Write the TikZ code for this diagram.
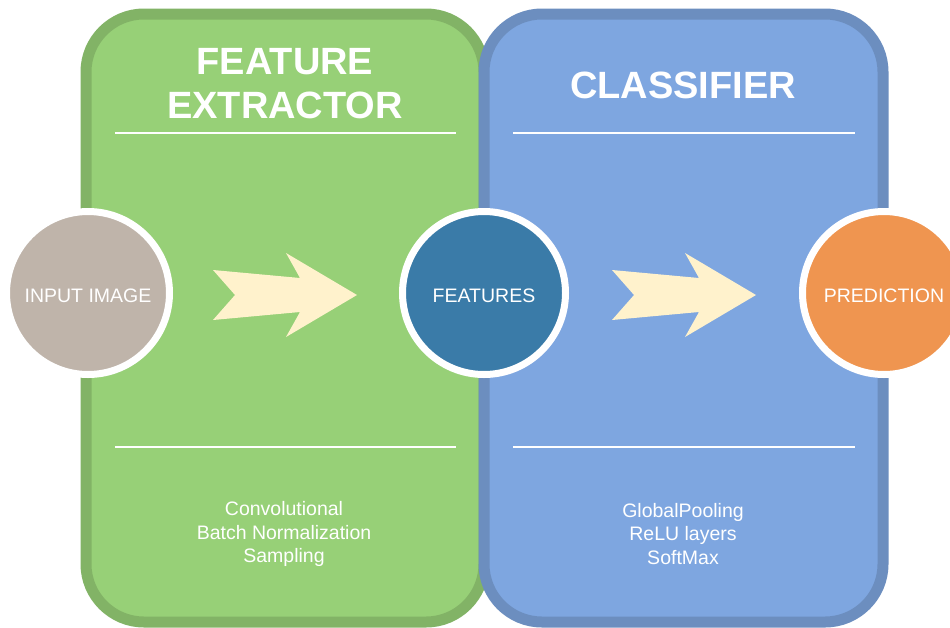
\documentclass[tikz,border=0pt]{standalone}
\usepackage{fontspec}
\setmainfont{Liberation Sans}
\definecolor{extfill}{HTML}{97D077}
\definecolor{extline}{HTML}{82B366}
\definecolor{clsfill}{HTML}{7EA6E0}
\definecolor{clsline}{HTML}{6C8EBF}
\definecolor{inputc}{HTML}{BFB4AA}
\definecolor{featc}{HTML}{3A7BA8}
\definecolor{predc}{HTML}{EF9550}
\definecolor{arrowc}{HTML}{FFF2CC}
\tikzset{
  panel/.style={line width=11pt, rounded corners=58pt},
  blob/.style={circle, draw=white, line width=7pt, minimum size=163pt, inner sep=0pt},
  blobtext/.style={text=white, font=\fontsize{19.5}{21}\selectfont, inner sep=0pt},
  title/.style={text=white, font=\fontsize{38}{44}\selectfont\bfseries, align=center},
  notes/.style={text=white, font=\fontsize{19.5}{23.5}\selectfont, align=center},
  rule/.style={draw=white, line width=2pt},
  chevron/.style={fill=arrowc, draw=none}
}
\begin{document}
\begin{tikzpicture}[x=1pt,y=-1pt]
\useasboundingbox (0,0) rectangle (950,627);
\fill[white] (0,0) rectangle (950,627);

% two stage panels
\draw[panel, fill=extfill, draw=extline] (86,14) rectangle (484,622);
\draw[panel, fill=clsfill, draw=clsline] (484,14) rectangle (883,622);

% panel titles
\node[title] (t1) at (285,84) {FEATURE\\EXTRACTOR};
\node[title] (t2) at (683,85) {CLASSIFIER};

% separator rules
\coordinate (r1a) at (115,133); \coordinate (r1b) at (456,133);
\coordinate (r2a) at (513,133); \coordinate (r2b) at (855,133);
\coordinate (r3a) at (115,447); \coordinate (r3b) at (456,447);
\coordinate (r4a) at (513,447); \coordinate (r4b) at (855,447);
\draw[rule] (r1a) -- (r1b);
\draw[rule] (r2a) -- (r2b);
\draw[rule] (r3a) -- (r3b);
\draw[rule] (r4a) -- (r4b);

% notched arrows
\foreach \dx in {0,399}{
  \fill[chevron, shift={(\dx,0)}]
    (213,270) -- (300,278) -- (286,253) -- (357,295) -- (286,337)
    -- (300,312) -- (213,320) -- (235,295) -- cycle;
}

% data circles, captions set a little below centre
\node[blob, fill=inputc] (in) at (88,293) {};
\node[blob, fill=featc] (feat) at (484,293) {};
\node[blob, fill=predc] (pred) at (884,293) {};
\node[blobtext] (inlbl) at ([yshift=-3pt]in.center) {INPUT IMAGE};
\node[blobtext] (featlbl) at ([yshift=-3pt]feat.center) {FEATURES};
\node[blobtext] (predlbl) at ([yshift=-3pt]pred.center) {PREDICTION};

% layer lists
\node[notes] (n1) at (284,534) {Convolutional\\Batch Normalization\\Sampling};
\node[notes] (n2) at (683,534) {GlobalPooling\\ReLU layers\\SoftMax};
\end{tikzpicture}
\end{document}
